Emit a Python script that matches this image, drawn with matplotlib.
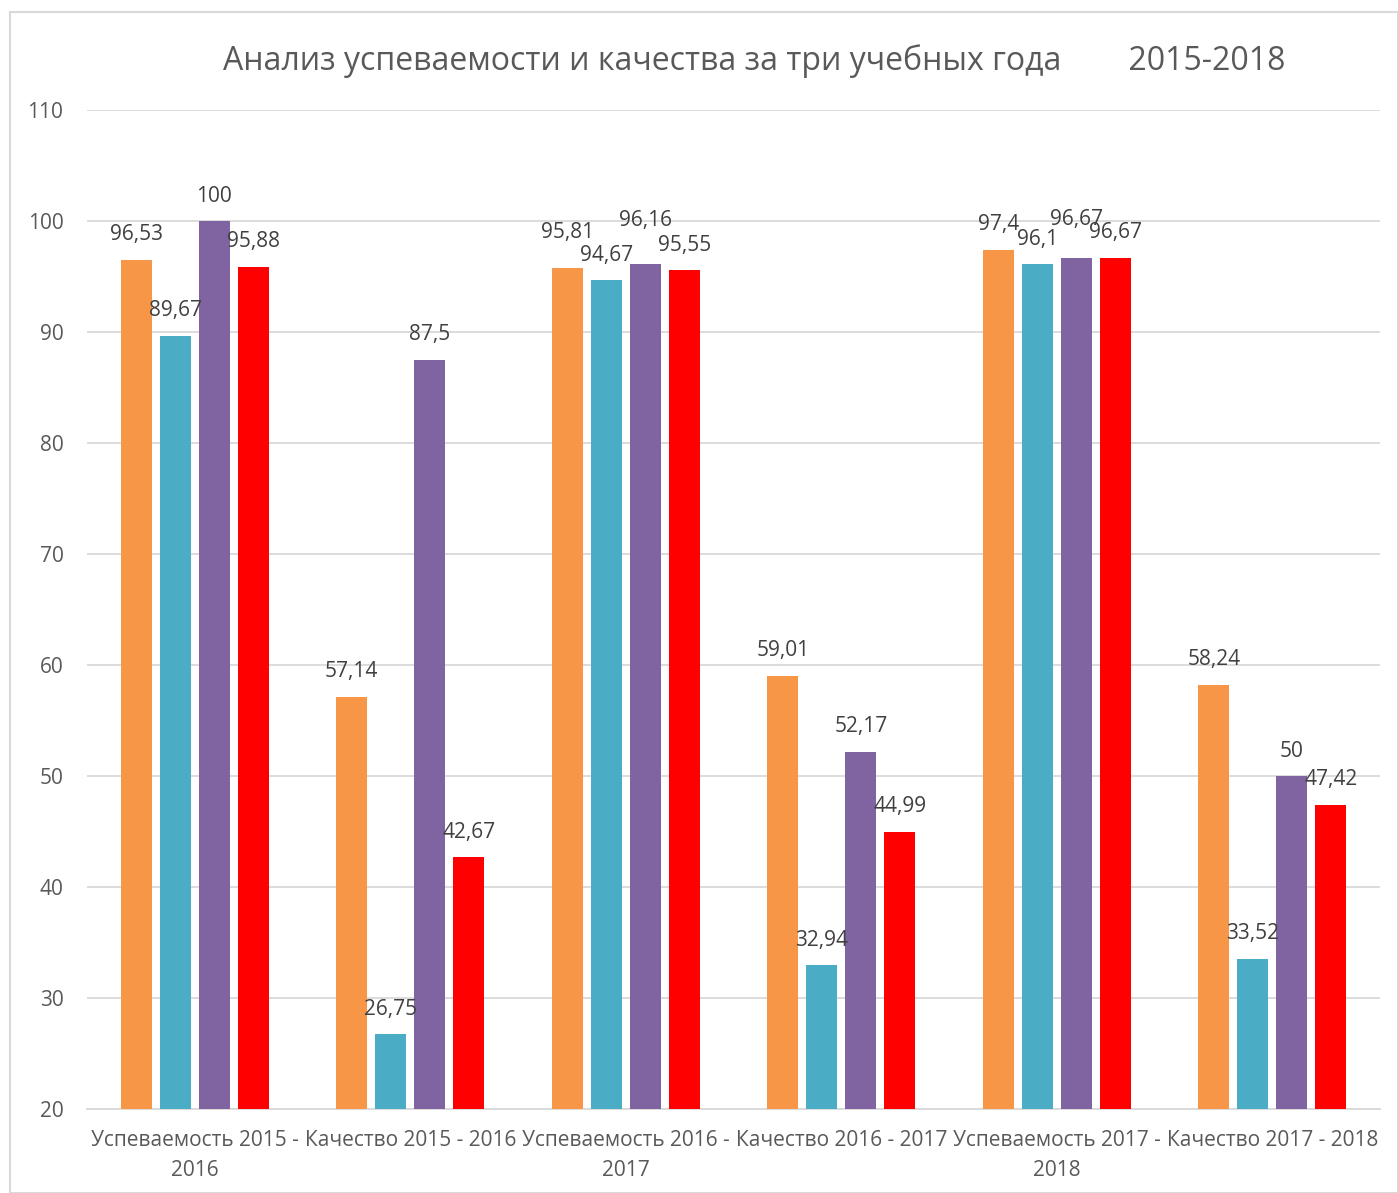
import matplotlib
matplotlib.use("Agg")
import matplotlib.pyplot as plt
import numpy as np
from matplotlib.patches import Rectangle

plt.rcParams['font.family'] = ['Open Sans', 'DejaVu Sans']

categories = ["Успеваемость 2015 -\n2016", "Качество 2015 - 2016",
              "Успеваемость 2016 -\n2017", "Качество 2016 - 2017",
              "Успеваемость 2017 -\n2018", "Качество 2017 - 2018"]
series1 = [96.53, 57.14, 95.81, 59.01, 97.4, 58.24]
series2 = [89.67, 26.75, 94.67, 32.94, 96.1, 33.52]
series3 = [100, 87.5, 96.16, 52.17, 96.67, 50]
series4 = [95.88, 42.67, 95.55, 44.99, 96.67, 47.42]
colors = ["#F79646", "#4BACC6", "#8064A2", "#FF0000"]
yticks = [20, 30, 40, 50, 60, 70, 80, 90, 100, 110]

# extra vertical nudges (points) for labels that Excel moved to avoid collisions
label_nudge = [
    [0, 0, 7, 0, 0, 0],
    [0, 0, 0, 0, 0, 0],
    [0, 0, 13, 0, 10, 0],
    [0, 0, 0, 0, 0, 0],
]

fig = plt.figure(figsize=(13.98, 11.93), dpi=100)
fig.patches.append(Rectangle((10/1398, 0), 1 - 10/1398, 1 - 12/1193, transform=fig.transFigure,
                             fill=False, edgecolor='#d9d9d9', linewidth=1.5))
ax = fig.add_axes([87/1398, 1 - 1109/1193, (1380 - 87)/1398, (1109 - 110)/1193])

x = np.arange(len(categories))
w = 0.144
step = 0.181
txt = '#595959'
for i, (s, c) in enumerate(zip([series1, series2, series3, series4], colors)):
    pos = x + (i - 1.5) * step
    ax.bar(pos, [v - 20 for v in s], bottom=20, width=w, color=c, zorder=3)
    for j, (p, v) in enumerate(zip(pos, s)):
        lab = (f"{v:g}").replace('.', ',')
        ax.annotate(lab, (p, v), xytext=(0, 18 + label_nudge[i][j]), textcoords='offset points',
                    ha='center', va='center', fontsize=15, color='#404040', zorder=4)

ax.set_ylim(20, 110)
ax.set_xlim(-0.5, len(categories) - 0.5)
ax.set_yticks(yticks)
ax.set_yticklabels([str(t) for t in yticks], fontsize=15, color=txt)
ax.set_xticks(x)
ax.set_xticklabels(categories, fontsize=15, color=txt, linespacing=1.55)
ax.tick_params(axis='x', length=0, pad=15)
ax.tick_params(axis='y', length=0, pad=17)
ax.grid(axis='y', color='#d9d9d9', linewidth=1.3, zorder=0)
for sp in ['top', 'right', 'left']:
    ax.spines[sp].set_visible(False)
ax.spines['bottom'].set_color('#d9d9d9')
ax.spines['bottom'].set_linewidth(1.3)

fig.text(754/1398, 1 - 61/1193, "Анализ успеваемости и качества за три учебных года        2015-2018",
         ha='center', va='center', fontsize=23, color=txt)

fig.savefig("out.png", dpi=100)
